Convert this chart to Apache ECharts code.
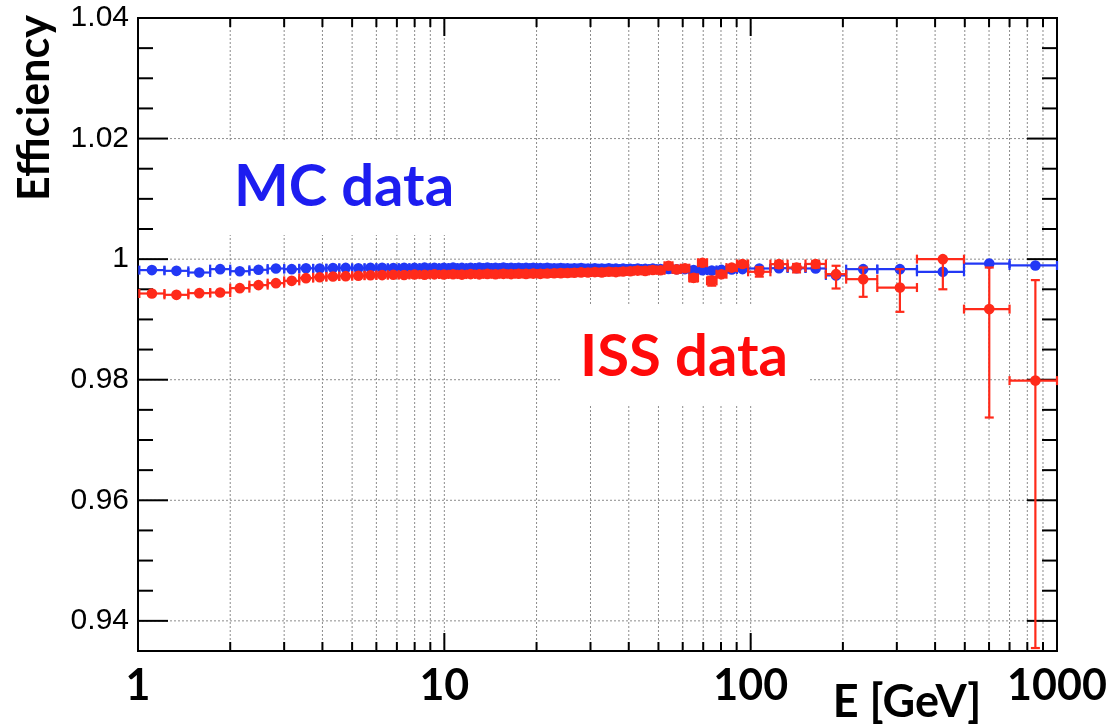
<!DOCTYPE html>
<html>
<head>
<meta charset="utf-8">
<script src="https://cdn.jsdelivr.net/npm/echarts@6/dist/echarts.min.js"></script>
<style>
  html, body { margin: 0; padding: 0; background: #fff; }
  #chart { width: 1120px; height: 724px; }
</style>
</head>
<body>
<div id="chart"></div>
<script>
// Energy binning [GeV]: bin edges and the energy at which each point is drawn
const binEdges = [
  1.01, 1.22, 1.46, 1.72, 2.00, 2.31, 2.65, 3.00, 3.36, 3.73,
  4.12, 4.54, 5.00, 5.49, 6.00, 6.54, 7.10, 7.69, 8.30, 8.95,
  9.62, 10.32, 11.04, 11.80, 12.59, 13.41, 14.25, 15.14, 16.05, 17.00,
  17.98, 18.99, 20.04, 21.13, 22.25, 23.42, 24.62, 25.90, 27.25, 28.68,
  30.21, 31.82, 33.53, 35.36, 37.31, 39.39, 41.61, 44.00, 46.57, 49.33,
  52.33, 55.58, 59.13, 63.02, 67.30, 72.05, 77.36, 83.36, 90.19, 98.10,
  116, 132, 151, 176, 205, 259, 349, 497, 700, 1000
];
const binCenters = [
  1.11, 1.335, 1.585, 1.854, 2.149, 2.474, 2.82, 3.175, 3.535, 3.92,
  4.33, 4.765, 5.24, 5.74, 6.265, 6.815, 7.39, 7.99, 8.62, 9.28,
  9.965, 10.68, 11.41, 12.19, 13.0, 13.82, 14.69, 15.59, 16.52, 17.48,
  18.48, 19.51, 20.58, 21.68, 22.83, 24.01, 25.25, 26.57, 27.96, 29.44,
  31.01, 32.66, 34.43, 36.32, 38.34, 40.48, 42.79, 45.27, 47.93, 50.81,
  53.93, 57.33, 61.05, 65.13, 69.63, 74.66, 80.30, 86.71, 94.06, 106.7,
  123.7, 141.2, 163, 190, 233, 307, 424, 601, 850
];

// MC efficiency
const mcEff = [
  0.99818, 0.99806, 0.99778, 0.99834, 0.99800, 0.99823, 0.99844, 0.99834, 0.99848, 0.99845,
  0.99852, 0.99855, 0.99850, 0.99858, 0.99856, 0.99852, 0.99858, 0.99855, 0.99860, 0.99856,
  0.99858, 0.99860, 0.99855, 0.99858, 0.99860, 0.99862, 0.99858, 0.99860, 0.99856, 0.99858,
  0.99855, 0.99858, 0.99852, 0.99855, 0.99850, 0.99854, 0.99850, 0.99848, 0.99852, 0.99846,
  0.99850, 0.99845, 0.99848, 0.99842, 0.99845, 0.99840, 0.99844, 0.99838, 0.99842, 0.99836,
  0.99838, 0.99832, 0.99835, 0.99820, 0.99815, 0.99810, 0.99822, 0.99830, 0.99835, 0.99845,
  0.99850, 0.99848, 0.99845, 0.99730, 0.99834, 0.99834, 0.99790, 0.99927, 0.99895
];

// ISS efficiency with lower / upper uncertainties
const issEff = [
  0.99430, 0.99408, 0.99436, 0.99446, 0.99519, 0.99569, 0.99602, 0.99640, 0.99685, 0.99700,
  0.99712, 0.99718, 0.99725, 0.99732, 0.99735, 0.99740, 0.99738, 0.99745, 0.99742, 0.99748,
  0.99745, 0.99750, 0.99744, 0.99752, 0.99748, 0.99755, 0.99750, 0.99756, 0.99752, 0.99758,
  0.99755, 0.99760, 0.99756, 0.99762, 0.99765, 0.99768, 0.99770, 0.99775, 0.99780, 0.99778,
  0.99785, 0.99780, 0.99790, 0.99785, 0.99795, 0.99800, 0.99810, 0.99805, 0.99820, 0.99815,
  0.99890, 0.99830, 0.99850, 0.99690, 0.99940, 0.99640, 0.99750, 0.99860, 0.99920, 0.99790,
  0.99917, 0.99860, 0.99920, 0.99751, 0.99668, 0.99529, 1.00000, 0.99171, 0.97985
];
const issErrLow = [
  0.0001, 0.0001, 0.0001, 0.0001, 0.0001, 0.0001, 0.0001, 0.0001, 0.0001, 0.0001,
  0.0001, 0.0001, 0.0001, 0.0001, 0.0001, 0.0001, 0.0001, 0.0001, 0.0001, 0.0001,
  0.0001, 0.0001, 0.0001, 0.0001, 0.0001, 0.0001, 0.0001, 0.0001, 0.0001, 0.0001,
  0.0002, 0.0002, 0.0002, 0.0002, 0.0002, 0.0002, 0.0002, 0.0002, 0.0002, 0.0002,
  0.0002, 0.0002, 0.0002, 0.0003, 0.0003, 0.0003, 0.0003, 0.0003, 0.0004, 0.0004,
  0.0004, 0.0004, 0.0004, 0.0006, 0.0005, 0.0008, 0.0005, 0.0005, 0.0005, 0.0008,
  0.0006, 0.0008, 0.0006, 0.00238, 0.00293, 0.00403, 0.0050, 0.01798, 0.04436
];
const issErrHigh = [
  0.0001, 0.0001, 0.0001, 0.0001, 0.0001, 0.0001, 0.0001, 0.0001, 0.0001, 0.0001,
  0.0001, 0.0001, 0.0001, 0.0001, 0.0001, 0.0001, 0.0001, 0.0001, 0.0001, 0.0001,
  0.0001, 0.0001, 0.0001, 0.0001, 0.0001, 0.0001, 0.0001, 0.0001, 0.0001, 0.0001,
  0.0002, 0.0002, 0.0002, 0.0002, 0.0002, 0.0002, 0.0002, 0.0002, 0.0002, 0.0002,
  0.0002, 0.0002, 0.0002, 0.0002, 0.0002, 0.0002, 0.0003, 0.0003, 0.0003, 0.0003,
  0.0003, 0.0003, 0.0003, 0.0005, 0.0003, 0.0007, 0.0004, 0.0004, 0.0004, 0.0008,
  0.0005, 0.0006, 0.0005, 0.00139, 0.00193, 0.00305, 0.0, 0.0069, 0.01667
];

// Axis ticks
const xMajorTicks = [1, 10, 100, 1000];
const xMinorTicks = [2, 3, 4, 5, 6, 7, 8, 9, 20, 30, 40, 50, 60, 70, 80, 90, 200, 300, 400, 500, 600, 700, 800, 900];
const yMajorTicks = [0.94, 0.96, 0.98, 1.00, 1.02, 1.04];
const yMinorTicks = [0.935, 0.945, 0.95, 0.955, 0.965, 0.97, 0.975, 0.985, 0.99, 0.995, 1.005, 1.01, 1.015, 1.025, 1.03, 1.035];

const Y_MIN = 0.935, Y_MAX = 1.04;
const BLUE = '#2238f5';
const RED = '#ff2a1a';
const BOLD_FONT = 'Lato, "Open Sans", sans-serif';

function pointsOf(eff, errLo, errHi) {
  return binCenters.map((e, i) => [
    e, eff[i], binEdges[i], binEdges[i + 1],
    errLo ? errLo[i] : 0, errHi ? errHi[i] : 0
  ]);
}

function errorBarRenderer(color) {
  return function (params, api) {
    const x = api.value(0), y = api.value(1);
    const p = api.coord([x, y]);
    const xl = api.coord([api.value(2), y])[0];
    const xr = api.coord([api.value(3), y])[0];
    const lo = api.value(4), hi = api.value(5);
    const style = { stroke: color, lineWidth: 2.2 };
    const cap = 4.5;
    const children = [
      { type: 'line', shape: { x1: xl, y1: p[1], x2: xr, y2: p[1] }, style },
      { type: 'line', shape: { x1: xl, y1: p[1] - cap, x2: xl, y2: p[1] + cap }, style },
      { type: 'line', shape: { x1: xr, y1: p[1] - cap, x2: xr, y2: p[1] + cap }, style }
    ];
    if (lo > 0 || hi > 0) {
      const yb = api.coord([x, y - lo])[1];
      const yt = api.coord([x, y + hi])[1];
      children.push({ type: 'line', shape: { x1: p[0], y1: yt, x2: p[0], y2: yb }, style });
      if (lo > 0) children.push({ type: 'line', shape: { x1: p[0] - cap, y1: yb, x2: p[0] + cap, y2: yb }, style });
      if (hi > 0) children.push({ type: 'line', shape: { x1: p[0] - cap, y1: yt, x2: p[0] + cap, y2: yt }, style });
    }
    children.push({ type: 'circle', shape: { cx: p[0], cy: p[1], r: 5.3 }, style: { fill: color } });
    return { type: 'group', children };
  };
}

const gridStyle = { stroke: '#8c8c8c', lineWidth: 1, lineDash: [2, 2] };
const tickStyle = { stroke: '#000', lineWidth: 2 };

// vertical grid lines and x ticks on bottom and top edges
function xTickRenderer(params, api) {
  const cs = params.coordSys;
  const px = api.coord([api.value(0), 1])[0];
  const len = api.value(1) ? 18 : 9;
  const bottom = cs.y + cs.height, top = cs.y;
  const children = [];
  if (px > cs.x + 1 && px < cs.x + cs.width - 1) {
    children.push({ type: 'line', shape: { x1: px, y1: top, x2: px, y2: bottom }, style: gridStyle });
  }
  children.push({ type: 'line', shape: { x1: px, y1: bottom, x2: px, y2: bottom - len }, style: tickStyle });
  children.push({ type: 'line', shape: { x1: px, y1: top, x2: px, y2: top + len }, style: tickStyle });
  return { type: 'group', children };
}

// horizontal grid lines and y ticks on left and right edges
function yTickRenderer(params, api) {
  const cs = params.coordSys;
  const py = api.coord([1, api.value(1)])[1];
  const major = api.value(2);
  const len = major ? 30 : 15;
  const left = cs.x, right = cs.x + cs.width;
  const children = [];
  if (major && py > cs.y + 1 && py < cs.y + cs.height - 1) {
    children.push({ type: 'line', shape: { x1: left, y1: py, x2: right, y2: py }, style: gridStyle });
  }
  children.push({ type: 'line', shape: { x1: left, y1: py, x2: left + len, y2: py }, style: tickStyle });
  children.push({ type: 'line', shape: { x1: right, y1: py, x2: right - len, y2: py }, style: tickStyle });
  return { type: 'group', children };
}

const xTickData = xMajorTicks.map(v => [v, 1]).concat(xMinorTicks.map(v => [v, 0]));
const yTickData = yMajorTicks.map(v => [1, v, 1]).concat(yMinorTicks.map(v => [1, v, 0]));

const chart = echarts.init(document.getElementById('chart'), null, { renderer: 'canvas' });

chart.setOption({
  animation: false,
  backgroundColor: '#fff',
  grid: {
    left: 138, right: 63, top: 18, bottom: 73,
    show: true, borderColor: '#000', borderWidth: 2, backgroundColor: 'transparent'
  },
  xAxis: {
    type: 'log', logBase: 10, min: 1, max: 1000,
    axisLine: { show: false },
    axisTick: { show: false },
    splitLine: { show: false },
    axisLabel: {
      formatter: v => String(Math.round(v)),
      fontFamily: BOLD_FONT, fontWeight: 'bold', fontSize: 43, color: '#000', margin: 14
    }
  },
  yAxis: {
    type: 'value', min: Y_MIN, max: Y_MAX, interval: 0.005,
    axisLine: { show: false },
    axisTick: { show: false },
    splitLine: { show: false },
    axisLabel: {
      formatter: v => {
        const k = Math.round(v * 50);
        if (Math.abs(v * 50 - k) > 1e-6) return '';
        return String(Number((k / 50).toFixed(2)));
      },
      fontFamily: '"Liberation Sans", Arial, sans-serif', fontSize: 30, color: '#000', margin: 9
    }
  },
  series: [
    { type: 'custom', name: 'xgrid', data: xTickData, renderItem: xTickRenderer, z: 1, silent: true },
    { type: 'custom', name: 'ygrid', data: yTickData, renderItem: yTickRenderer, z: 1, silent: true },
    { type: 'custom', name: 'MC data', data: pointsOf(mcEff, null, null), renderItem: errorBarRenderer(BLUE), z: 3 },
    { type: 'custom', name: 'ISS data', data: pointsOf(issEff, issErrLow, issErrHigh), renderItem: errorBarRenderer(RED), z: 4 }
  ],
  graphic: [
    { type: 'rect', z: 50, shape: { x: 215, y: 140, width: 255, height: 95 }, style: { fill: '#fff' } },
    { type: 'rect', z: 50, shape: { x: 560, y: 305, width: 250, height: 100 }, style: { fill: '#fff' } },
    {
      type: 'text', z: 60, x: 344, y: 187,
      style: { text: 'MC data', fill: '#1d1df0', font: 'bold 58px ' + BOLD_FONT, align: 'center', verticalAlign: 'middle' }
    },
    {
      type: 'text', z: 60, x: 684, y: 357,
      style: { text: 'ISS data', fill: '#ff0a0a', font: 'bold 58px ' + BOLD_FONT, align: 'center', verticalAlign: 'middle' }
    },
    {
      type: 'text', z: 60, x: 35, y: 108, rotation: Math.PI / 2,
      style: { text: 'Efficiency', fill: '#000', font: 'bold 43px ' + BOLD_FONT, align: 'center', verticalAlign: 'middle' }
    },
    {
      type: 'text', z: 60, x: 907, y: 702,
      style: { text: 'E [GeV]', fill: '#000', font: 'bold 45px ' + BOLD_FONT, align: 'center', verticalAlign: 'middle' }
    }
  ]
});
</script>
</body>
</html>
